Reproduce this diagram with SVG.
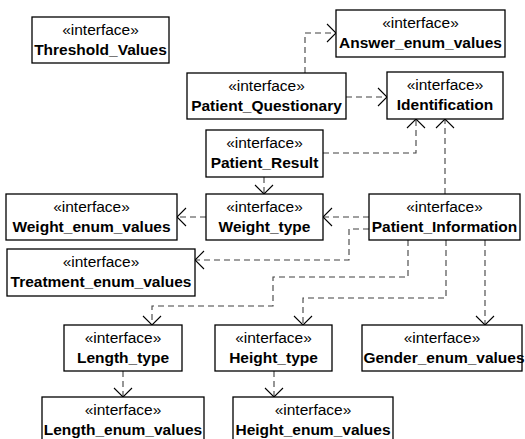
<svg xmlns="http://www.w3.org/2000/svg" width="525" height="439" viewBox="0 0 525 439">
<style>
.box{fill:#fff;stroke:#000;stroke-width:1.3}
.st{font-family:"Liberation Sans",Arial,sans-serif;font-size:15.5px;text-anchor:middle;fill:#000}
.nm{font-family:"Liberation Sans",Arial,sans-serif;font-size:15.5px;font-weight:bold;text-anchor:middle;fill:#000}
.dep{fill:none;stroke:#404040;stroke-width:1.1;stroke-dasharray:6,4;marker-end:url(#open)}
</style>
<defs>
<marker id="open" markerUnits="userSpaceOnUse" markerWidth="14" markerHeight="22" refX="11" refY="10" orient="auto">
<path d="M2,1 L11,10 L2,19" fill="none" stroke="#000" stroke-width="1.1"/>
</marker>
</defs>
<rect width="525" height="439" fill="#fff"/>
<g id="connectors">
<path class="dep" d="M305,73 V33 H336"/>
<path class="dep" d="M346,97 H387"/>
<path class="dep" d="M323,153 H416 V119"/>
<path class="dep" d="M445,194 V119"/>
<path class="dep" d="M264,177 V194"/>
<path class="dep" d="M369,217 H323"/>
<path class="dep" d="M206,217 H177"/>
<path class="dep" d="M369,229 H349 V260 H195"/>
<path class="dep" d="M408,240 V277 H273 V306 H152 V325"/>
<path class="dep" d="M446,240 V298 H303 V325"/>
<path class="dep" d="M485,240 V325"/>
<path class="dep" d="M123,371 V397"/>
<path class="dep" d="M274,371 V397"/>
</g>
<g id="Threshold_Values">
<rect class="box" x="32" y="17" width="137" height="46"/>
<text class="st" x="100.5" y="35">«interface»</text>
<text class="nm" x="100.5" y="55">Threshold_Values</text>
</g>
<g id="Answer_enum_values">
<rect class="box" x="336" y="10" width="169" height="47"/>
<text class="st" x="420.5" y="28">«interface»</text>
<text class="nm" x="420.5" y="48">Answer_enum_values</text>
</g>
<g id="Patient_Questionary">
<rect class="box" x="187" y="73" width="159" height="46"/>
<text class="st" x="266.5" y="91">«interface»</text>
<text class="nm" x="266.5" y="111">Patient_Questionary</text>
</g>
<g id="Identification">
<rect class="box" x="387" y="72" width="116" height="47"/>
<text class="st" x="445" y="90">«interface»</text>
<text class="nm" x="445" y="110">Identification</text>
</g>
<g id="Patient_Result">
<rect class="box" x="206" y="130" width="117" height="47"/>
<text class="st" x="264.5" y="148">«interface»</text>
<text class="nm" x="264.5" y="168">Patient_Result</text>
</g>
<g id="Weight_enum_values">
<rect class="box" x="6" y="194" width="171" height="46"/>
<text class="st" x="91.5" y="212">«interface»</text>
<text class="nm" x="91.5" y="232">Weight_enum_values</text>
</g>
<g id="Weight_type">
<rect class="box" x="206" y="194" width="117" height="46"/>
<text class="st" x="264.5" y="212">«interface»</text>
<text class="nm" x="264.5" y="232">Weight_type</text>
</g>
<g id="Patient_Information">
<rect class="box" x="369" y="194" width="151" height="46"/>
<text class="st" x="444.5" y="212">«interface»</text>
<text class="nm" x="444.5" y="232">Patient_Information</text>
</g>
<g id="Treatment_enum_values">
<rect class="box" x="7" y="249" width="188" height="47"/>
<text class="st" x="101" y="267">«interface»</text>
<text class="nm" x="101" y="287">Treatment_enum_values</text>
</g>
<g id="Length_type">
<rect class="box" x="64" y="325" width="118" height="46"/>
<text class="st" x="123" y="343">«interface»</text>
<text class="nm" x="123" y="363">Length_type</text>
</g>
<g id="Height_type">
<rect class="box" x="215" y="325" width="117" height="46"/>
<text class="st" x="273.5" y="343">«interface»</text>
<text class="nm" x="273.5" y="363">Height_type</text>
</g>
<g id="Gender_enum_values">
<rect class="box" x="362" y="325" width="160" height="46"/>
<text class="st" x="442" y="343">«interface»</text>
<text class="nm" x="444" y="363">Gender_enum_values</text>
</g>
<g id="Length_enum_values">
<rect class="box" x="42" y="397" width="162" height="48"/>
<text class="st" x="123" y="415">«interface»</text>
<text class="nm" x="123" y="435">Length_enum_values</text>
</g>
<g id="Height_enum_values">
<rect class="box" x="233" y="397" width="160" height="48"/>
<text class="st" x="313" y="415">«interface»</text>
<text class="nm" x="313" y="435">Height_enum_values</text>
</g>
</svg>
